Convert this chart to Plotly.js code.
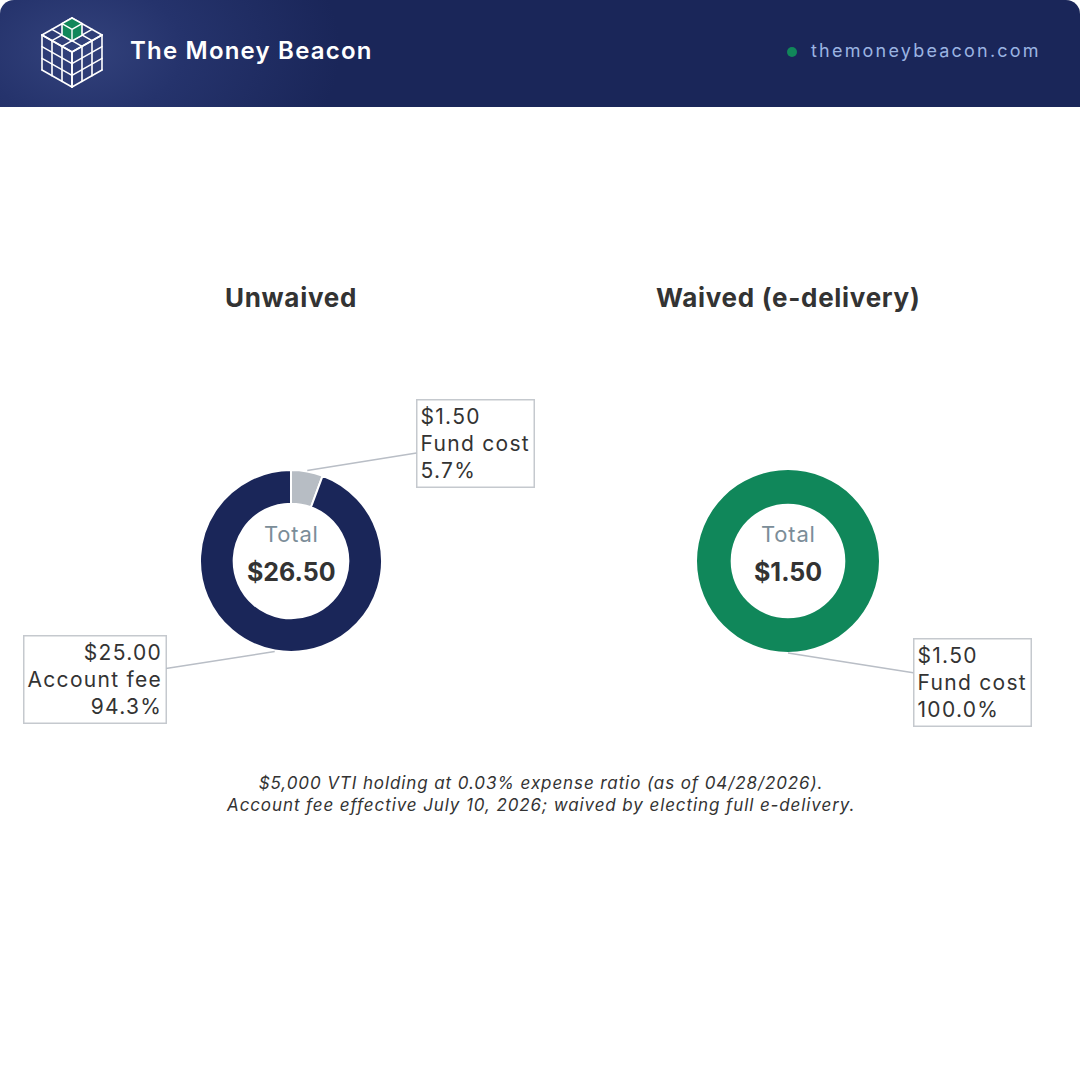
<!DOCTYPE html>
<html>
<head>
<meta charset="utf-8">
<script src="https://cdn.plot.ly/plotly-3.0.1.min.js"></script>
<style>
  html, body { margin: 0; padding: 0; background: #ffffff; }
  #wrap { position: relative; width: 1080px; height: 1080px; overflow: hidden; background: #fff; }
  #header {
    position: absolute; left: 0; top: 0; width: 1080px; height: 107px; z-index: 5;
    border-radius: 14px 14px 0 0;
    background: radial-gradient(ellipse 260px 170px at 80px 50px, #33427c 0%, #25336c 40%, #1a2659 100%);
  }
  #brand { position: absolute; left: 130px; top: 34px; font-family: Inter, "Noto Sans", sans-serif; font-weight: 600; font-size: 24px; color: #ffffff; letter-spacing: 1.2px; line-height: 34px; }
  #site { position: absolute; left: 811px; top: 39px; font-family: Inter, "Noto Sans", sans-serif; font-weight: 400; font-size: 18px; color: #9bb4e2; letter-spacing: 2.2px; line-height: 24px; }
  #dot { position: absolute; left: 787px; top: 47px; width: 10px; height: 10px; border-radius: 50%; background: #11875a; }
  #logo { position: absolute; left: 0; top: 0; }
  #chart { position: absolute; left: 0; top: 0; width: 1080px; height: 1080px; }
</style>
</head>
<body>
<div id="wrap">
  <div id="chart"></div>
  <div id="header">
    <svg id="logo" width="130" height="107"></svg>
    <div id="brand">The Money Beacon</div>
    <div id="dot"></div>
    <div id="site">themoneybeacon.com</div>
  </div>
</div>
<script>
// ---------------- DATA ----------------
const chartTitles = ["Unwaived", "Waived (e-delivery)"];
const unwaivedLabels = ["Fund cost", "Account fee"];
const unwaivedValues = [1.50, 25.00];
const waivedLabels = ["Fund cost"];
const waivedValues = [1.50];
const centerLabel = "Total";
const captionLines = [
  "$5,000 VTI holding at 0.03% expense ratio (as of 04/28/2026).",
  "Account fee effective July 10, 2026; waived by electing full e-delivery."
];

// ---------------- STYLE ----------------
const W = 1080, H = 1080;
const NAVY = "#1a2659", GRAY = "#b7bdc4", GREEN = "#10875a";
const FONT = "Inter, 'Noto Sans', sans-serif";
const TXT = "#333333";
const sp = (t, ls) => `<span style="letter-spacing:${ls}px">${t}</span>`;

// ---------------- LOGO ----------------
(function drawLogo(){
  const svg = document.getElementById("logo");
  const T=[72,18], UL=[42,35], UR=[102,35], C=[72,52], Hh=35;
  const add=(p,q,f)=>[p[0]+(q[0]-p[0])*f, p[1]+(q[1]-p[1])*f];
  const ln=(a,b)=>`<line x1="${a[0]}" y1="${a[1]}" x2="${b[0]}" y2="${b[1]}"/>`;
  let lines = "";
  for (let i=0;i<=3;i++){
    lines += ln(add(T,UL,i/3), add(UR,C,i/3));
    lines += ln(add(T,UR,i/3), add(UL,C,i/3));
  }
  for (let i=0;i<=3;i++){
    const a = add(UL,C,i/3);
    lines += ln(a,[a[0],a[1]+Hh]);
    lines += ln([UL[0],UL[1]+Hh*i/3],[C[0],C[1]+Hh*i/3]);
  }
  for (let i=0;i<=3;i++){
    const a = add(C,UR,i/3);
    lines += ln(a,[a[0],a[1]+Hh]);
    lines += ln([C[0],C[1]+Hh*i/3],[UR[0],UR[1]+Hh*i/3]);
  }
  let s = `<g stroke="#ffffff" stroke-width="1.6" stroke-linecap="round">${lines}</g>`;
  const g1 = add(T,UL,1/3), g2 = add(T,UR,1/3);
  const gc = [72, T[1] + (C[1]-T[1])/3];
  const d = Hh/3;
  s += `<polygon points="${T} ${g1} ${g1[0]},${g1[1]+d} ${gc[0]},${gc[1]+d} ${g2[0]},${g2[1]+d} ${g2}" fill="#11875a" stroke="#ffffff" stroke-width="1.6" stroke-linejoin="round"/>`;
  s += `<g stroke="#ffffff" stroke-width="1.4">${ln(g1,gc)}${ln(g2,gc)}${ln(gc,[gc[0],gc[1]+d])}</g>`;
  svg.innerHTML = s;
})();

// ---------------- CHART ----------------
const R = 91;
const centers = [[291,561],[788,561]];
const px2x = px => px / W;
const py2y = py => 1 - py / H;
function domainFor(c){
  return { x:[px2x(c[0]-R), px2x(c[0]+R)], y:[py2y(c[1]+R), py2y(c[1]-R)] };
}
const fmt = v => "$" + v.toFixed(2);
const sum = a => a.reduce((s,v)=>s+v,0);

const traces = [
  { type:"pie", labels:unwaivedLabels, values:unwaivedValues, domain:domainFor(centers[0]),
    hole:0.63, sort:false, direction:"clockwise", rotation:0, textinfo:"none",
    marker:{colors:[GRAY,NAVY], line:{color:"#ffffff", width:2}}, hoverinfo:"skip", showlegend:false },
  { type:"pie", labels:waivedLabels, values:waivedValues, domain:domainFor(centers[1]),
    hole:0.63, sort:false, direction:"clockwise", rotation:0, textinfo:"none",
    marker:{colors:[GREEN], line:{color:"#ffffff", width:0}}, hoverinfo:"skip", showlegend:false }
];

const annotations = [];
chartTitles.forEach((t,i)=>{
  annotations.push({ text:`<b>${sp(t,0.7)}</b>`, x:px2x(centers[i][0]), y:py2y(297), xref:"paper", yref:"paper",
    showarrow:false, xanchor:"center", yanchor:"middle", font:{family:FONT, size:26, color:TXT} });
});
[unwaivedValues, waivedValues].forEach((vals,i)=>{
  annotations.push({ text:sp(centerLabel,0.8), x:px2x(centers[i][0]), y:py2y(534), xref:"paper", yref:"paper",
    showarrow:false, xanchor:"center", yanchor:"middle", font:{family:FONT, size:22, color:"#7b8d98"} });
  annotations.push({ text:`<b>${fmt(sum(vals))}</b>`, x:px2x(centers[i][0]), y:py2y(572), xref:"paper", yref:"paper",
    showarrow:false, xanchor:"center", yanchor:"middle", font:{family:FONT, size:25, color:TXT} });
});
const offsets = [ [[168,-27,"left"],[-180,28,"right"]], [[184,29,"left"]] ];
[[unwaivedLabels,unwaivedValues],[waivedLabels,waivedValues]].forEach(([labs,vals],i)=>{
  const tot = sum(vals); let cum = 0;
  vals.forEach((v,j)=>{
    const th = 2*Math.PI*(cum + v/2)/tot; cum += v;
    const px = centers[i][0] + (R+1)*Math.sin(th);
    const py = centers[i][1] - (R+1)*Math.cos(th);
    const [ax,ay,al] = offsets[i][j];
    const lines = [fmt(v), labs[j], (100*v/tot).toFixed(1) + "%"].map(t=>sp(t,1.3));
    annotations.push({ x:px2x(px), y:py2y(py), xref:"paper", yref:"paper",
      text:lines.join("<br>"),
      showarrow:true, arrowhead:0, arrowwidth:1.5, arrowcolor:"#b9bec6", standoff:0,
      ax:ax, ay:ay, align:al, bgcolor:"#ffffff", bordercolor:"#c5c9ce", borderwidth:1.5, borderpad:3,
      font:{family:FONT, size:21, color:TXT} });
  });
});
annotations.push({ text:`<i>${captionLines.map(t=>sp(t,0.9)).join("<br>")}</i>`, x:0.5, y:py2y(794), xref:"paper", yref:"paper",
  showarrow:false, xanchor:"center", yanchor:"middle", font:{family:FONT, size:17, color:TXT} });

const layout = {
  width:W, height:H, margin:{l:0,r:0,t:0,b:0},
  paper_bgcolor:"#ffffff", plot_bgcolor:"#ffffff",
  showlegend:false, annotations:annotations
};
Plotly.newPlot("chart", traces, layout, {displayModeBar:false, staticPlot:true});
</script>
</body>
</html>
